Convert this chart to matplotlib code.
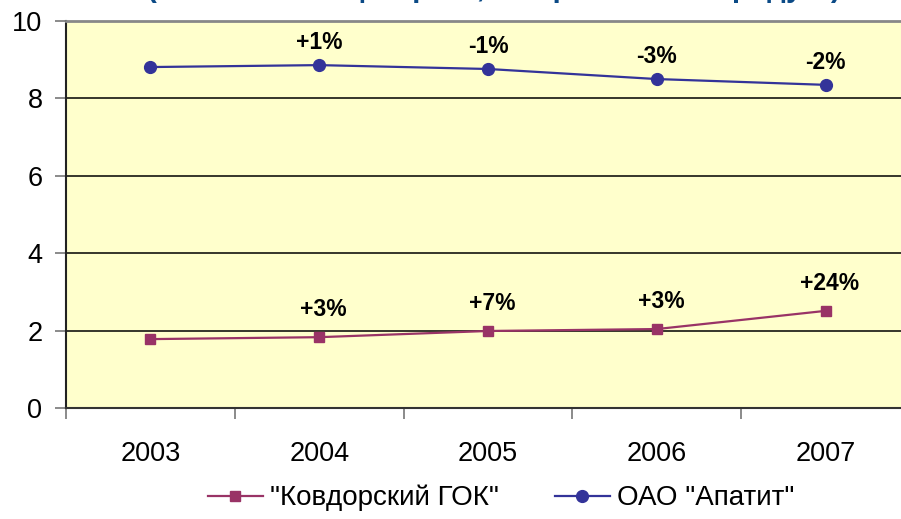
import matplotlib
matplotlib.use('Agg')
import matplotlib.pyplot as plt
import numpy as np

plt.rcParams['font.family'] = ['Liberation Sans', 'DejaVu Sans']

# данные
years = ['2003', '2004', '2005', '2006', '2007']
kovdor = [1.78, 1.83, 1.99, 2.04, 2.51]
apatit = [8.81, 8.86, 8.76, 8.50, 8.35]
kovdor_pct = ['', '+3%', '+7%', '+3%', '+24%']
apatit_pct = ['', '+1%', '-1%', '-3%', '-2%']
series_names = ['"Ковдорский ГОК"', 'ОАО "Апатит"']
title_text = '(млн тонн концентрата, в пересчете на продукт)'

fig = plt.figure(figsize=(9.01, 5.19), dpi=100)
ax = fig.add_axes([66/901, 111/519, 844/901, 387/519])
ax.set_facecolor('#FFFFCC')

x = np.arange(len(years))
ax.plot(x, kovdor, color='#993366', lw=1.6, marker='s', ms=7.5, label=series_names[0])
ax.plot(x, apatit, color='#333399', lw=1.6, marker='o', ms=8.5, label=series_names[1])

# подписи процентов
for i, t in enumerate(apatit_pct):
    if t:
        ax.annotate(t, (x[i], apatit[i]), xytext=(0, 16), textcoords='offset points',
                    ha='center', va='center', fontsize=16.5, fontweight='bold')
for i, t in enumerate(kovdor_pct):
    if t:
        ax.annotate(t, (x[i], kovdor[i]), xytext=(3, 20), textcoords='offset points',
                    ha='center', va='center', fontsize=16.5, fontweight='bold')

ax.set_xlim(-0.5, len(years) - 0.5)
ax.set_ylim(0, 10)
ax.set_yticks([0, 2, 4, 6, 8, 10])
ax.set_xticks(x)
ax.set_xticklabels(years)
ax.set_xticks(np.arange(-0.5, len(years)), minor=True)
ax.tick_params(axis='x', which='major', length=0, pad=24, labelsize=19.5)
ax.tick_params(axis='x', which='minor', length=8, color='#777777', width=1.2)
ax.tick_params(axis='y', length=8, color='#777777', width=1.2, pad=9, labelsize=19.5)

for yv in [2, 4, 6, 8]:
    ax.axhline(yv, color='black', lw=1.1, zorder=1)

ax.spines['top'].set_color('#888888')
ax.spines['top'].set_linewidth(2)
ax.spines['left'].set_color('#222222')
ax.spines['left'].set_linewidth(1.5)
ax.spines['bottom'].set_color('#333333')
ax.spines['bottom'].set_linewidth(1.5)
ax.spines['right'].set_visible(False)

fig.legend(loc='center', bbox_to_anchor=(501/901, 1 - 498/519), ncol=2, frameon=False,
           fontsize=20, handlelength=2.0, columnspacing=2.0, handletextpad=0.25)

# заголовок, обрезанный сверху (как в исходнике)
fig.text(494/901, 1 + 3/519, title_text, ha='center', va='baseline',
         fontsize=21, fontweight='bold', color='#0B4A86')

fig.savefig('out.png', dpi=100)
